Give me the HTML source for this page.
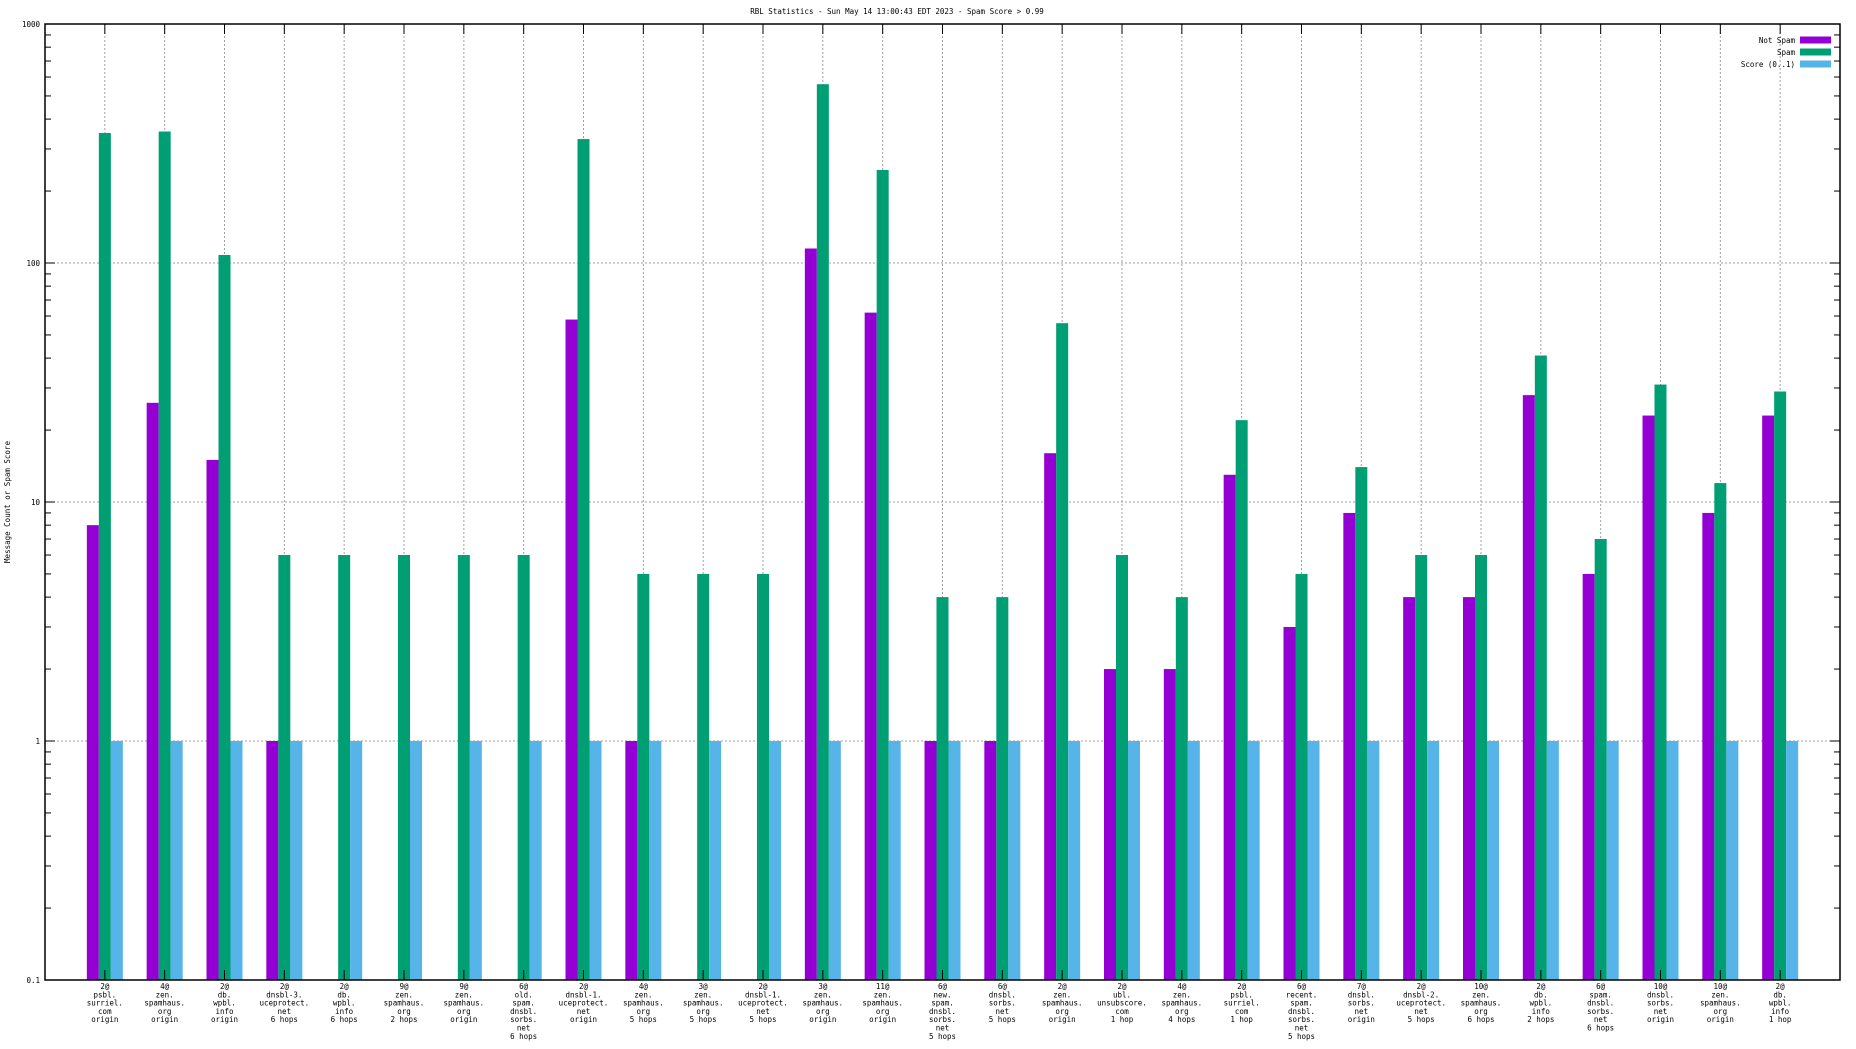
<!DOCTYPE html>
<html><head><meta charset="utf-8"><style>
html,body{margin:0;padding:0;background:#fff;}
svg text{font-family:"DejaVu Sans Mono","Liberation Mono",monospace;font-size:7.5px;fill:#000;}
</style></head><body>
<svg id="chart" width="1856" height="1044" xmlns="http://www.w3.org/2000/svg"></svg>
<script>
const categories = [
"2@|psbl.|surriel.|com|origin","4@|zen.|spamhaus.|org|origin","2@|db.|wpbl.|info|origin","2@|dnsbl-3.|uceprotect.|net|6 hops",
"2@|db.|wpbl.|info|6 hops","9@|zen.|spamhaus.|org|2 hops","9@|zen.|spamhaus.|org|origin","6@|old.|spam.|dnsbl.|sorbs.|net|6 hops",
"2@|dnsbl-1.|uceprotect.|net|origin","4@|zen.|spamhaus.|org|5 hops","3@|zen.|spamhaus.|org|5 hops","2@|dnsbl-1.|uceprotect.|net|5 hops",
"3@|zen.|spamhaus.|org|origin","11@|zen.|spamhaus.|org|origin","6@|new.|spam.|dnsbl.|sorbs.|net|5 hops","6@|dnsbl.|sorbs.|net|5 hops",
"2@|zen.|spamhaus.|org|origin","2@|ubl.|unsubscore.|com|1 hop","4@|zen.|spamhaus.|org|4 hops","2@|psbl.|surriel.|com|1 hop",
"6@|recent.|spam.|dnsbl.|sorbs.|net|5 hops","7@|dnsbl.|sorbs.|net|origin","2@|dnsbl-2.|uceprotect.|net|5 hops","10@|zen.|spamhaus.|org|6 hops",
"2@|db.|wpbl.|info|2 hops","6@|spam.|dnsbl.|sorbs.|net|6 hops","10@|dnsbl.|sorbs.|net|origin","10@|zen.|spamhaus.|org|origin","2@|db.|wpbl.|info|1 hop"];
const notSpam = [8,26,15,1,0,0,0,0,58,1,0,0,115,62,1,1,16,2,2,13,3,9,4,4,28,5,23,9,23];
const spam = [350,355,108,6,6,6,6,6,330,5,5,5,560,245,4,4,56,6,4,22,5,14,6,6,41,7,31,12,29];
const score = [1,1,1,1,1,1,1,1,1,1,1,1,1,1,1,1,1,1,1,1,1,1,1,1,1,1,1,1,1];
const yTicks = [0.1,1,10,100,1000];
const yTickLabels = ["0.1","1","10","100","1000"];

const svg = document.getElementById('chart');
const NS = 'http://www.w3.org/2000/svg';
const L=45,R=1840,T=24,B=980;
const yMin=0.1,yMax=1000;
function y(v){return B-(Math.log10(v)-Math.log10(yMin))/(Math.log10(yMax)-Math.log10(yMin))*(B-T);}
const step=(R-L)/(categories.length+1);
function x(i){return L+(i+1)*step;}
function mk(tag,attrs,parent){const e=document.createElementNS(NS,tag);for(const k in attrs)e.setAttribute(k,attrs[k]);(parent||svg).appendChild(e);return e;}

// grid
const grid=mk('g',{});


yTicks.forEach(v=>{if(v>yMin&&v<yMax)mk('line',{x1:L,x2:R,y1:y(v),y2:y(v),stroke:'#a0a0a0','stroke-dasharray':'2,2','stroke-width':1},grid);});
categories.forEach((c,i)=>mk('line',{x1:x(i),x2:x(i),y1:T,y2:B,stroke:'#a0a0a0','stroke-dasharray':'2,2','stroke-width':1},grid));

// bars
const bw=12;
const series=[[notSpam,'#9400d3',-1.5,'not-spam'],[spam,'#009e73',-0.5,'spam'],[score,'#56b4e9',0.5,'score']];
series.forEach(([arr,col,off,nm])=>{
  arr.forEach((v,i)=>{
    if(v<=0)return;
    const top=y(v);
    const r=mk('rect',{x:x(i)+off*bw,y:top,width:bw,height:B-top,fill:col});
    
    
  });
});

// axes box
const box=mk('rect',{x:L,y:T,width:R-L,height:B-T,fill:'none',stroke:'#000','stroke-width':1.5});



// y ticks
for(let d=-1;d<3;d++){
  for(let m=1;m<10;m++){
    const v=m*Math.pow(10,d);const yy=y(v);const len=m===1?10:6;
    mk('line',{x1:L,x2:L+len,y1:yy,y2:yy,stroke:'#000','stroke-width':1});
    mk('line',{x1:R,x2:R-len,y1:yy,y2:yy,stroke:'#000','stroke-width':1});
  }
}
yTicks.forEach((v,i)=>{
  const t=mk('text',{x:L-5,y:y(v)+3,'text-anchor':'end'});t.textContent=yTickLabels[i];
  
  
});
// x ticks and labels
categories.forEach((c,i)=>{
  mk('line',{x1:x(i),x2:x(i),y1:B,y2:B-10,stroke:'#000','stroke-width':1});
  mk('line',{x1:x(i),x2:x(i),y1:T,y2:T+10,stroke:'#000','stroke-width':1});
  const t=mk('text',{x:x(i),y:989,'text-anchor':'middle'});
  
  
  c.split('|').forEach((ln,k)=>{const s=mk('tspan',{x:x(i),dy:k===0?0:8.3},t);s.textContent=ln;});
});

// title
const title=mk('text',{x:897,y:14,'text-anchor':'middle'});
title.textContent='RBL Statistics - Sun May 14 13:00:43 EDT 2023 - Spam Score > 0.99';



// y-axis title
const yt=mk('text',{x:10,y:502,'text-anchor':'middle',transform:'rotate(-90 10 502)'});
yt.textContent='Message Count or Spam Score';



// legend
const leg=[['Not Spam','#9400d3'],['Spam','#009e73'],['Score (0..1)','#56b4e9']];
leg.forEach(([lab,col],k)=>{
  const g=mk('g',{});
  
  
  const yy=40+k*12;
  const t=mk('text',{x:1795,y:yy+3,'text-anchor':'end'},g);t.textContent=lab;
  mk('rect',{x:1800,y:yy-3.5,width:31,height:7,fill:col},g);
});
</script>
</body></html>
